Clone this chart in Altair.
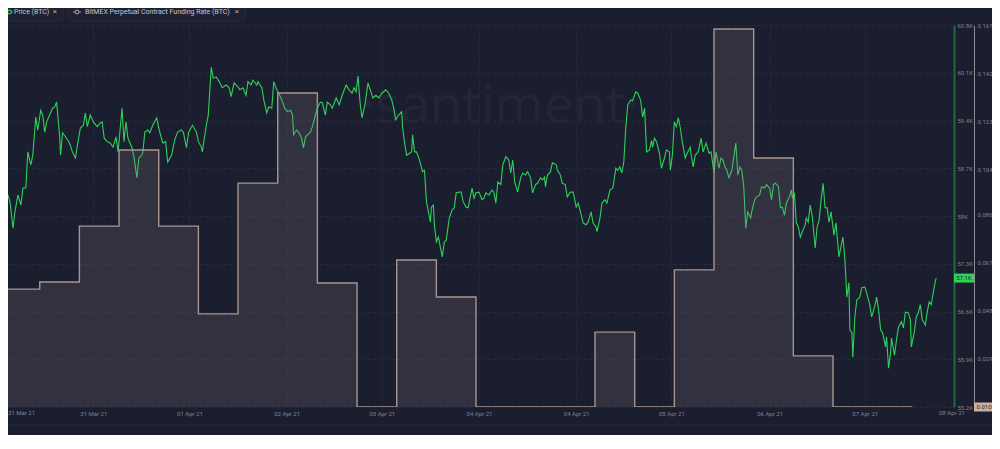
import altair as alt
import pandas as pd

# x unit: 12-minute steps from the chart start (funding settles every 8h = 40 steps)
price_t = [
    0, 1, 3, 7, 10, 13, 15, 18, 21, 23, 26, 28, 31, 33, 36, 38, 41, 43, 45, 47, 50, 53, 55, 57, 60, 61, 63, 67, 70, 73,
    76, 78, 81, 84, 86, 88, 91, 94, 98, 101, 103, 105, 108, 111, 114, 117, 119, 123, 125, 127, 129, 133, 135, 138, 140,
    143, 144, 146, 149, 151, 154, 158, 160, 164, 167, 169, 173, 176, 179, 183, 185, 188, 190, 194, 198, 200, 203, 204,
    206, 208, 210, 213, 215, 218, 221, 224, 228, 231, 233, 236, 240,
    242, 245, 248, 250, 253, 255, 259, 260, 264, 266, 269, 271, 274, 276, 279, 282, 285, 287, 290, 293, 295, 296, 299,
    301, 304, 306, 308, 310, 313, 315, 318, 320, 323, 325, 328, 330, 333, 335, 339, 342, 345, 349, 352, 355, 357, 359,
    361, 363, 365, 368, 371, 374, 376, 379, 382, 385, 389, 392, 395, 397, 399, 402, 405, 406, 408, 410, 413, 415, 416,
    418, 420, 423, 426, 428, 430, 432, 434, 435, 437, 438, 440, 442, 445, 446, 448, 450, 453, 456, 458, 460, 463, 465,
    467, 470, 472, 476, 478, 480, 483,
    486, 488, 490, 493, 496, 498, 500, 502, 505, 507, 510, 513, 515, 517, 519, 522, 525, 527, 530, 532, 535, 537, 540,
    542, 545, 547, 549, 550, 552, 555, 557, 561, 562, 565, 567, 570, 572, 575, 578, 581, 583, 586, 588, 591, 593, 596,
    598, 601, 602, 605, 607, 610, 612, 615, 618, 621, 623, 625, 627, 629, 631, 633, 636, 638, 641, 643, 646, 648, 650,
    652, 655, 657, 658, 660, 662, 665, 667, 670, 672, 675, 676, 678, 680, 682, 684, 686, 688, 691, 693, 696, 697, 699,
    701, 704, 707, 709, 712, 715, 717, 720, 722, 725,
    727, 729, 731, 733, 735, 738, 740, 742, 744, 746, 748, 750, 752, 754, 757, 758, 761, 763, 766, 768, 771, 773, 776,
    778, 780, 782, 785, 787, 789, 791, 793, 796, 798, 799, 801, 803, 805, 807, 809, 812, 813, 815, 817, 819, 822, 824,
    826, 828, 830, 832, 834, 836, 838, 841, 843, 846, 848, 850, 852, 854, 856, 857, 859, 860, 862, 864, 867, 869, 872,
    874, 877, 879, 882, 884, 886, 888, 890, 893, 894, 896, 898, 899, 902, 904, 906, 909, 911, 913, 916, 918, 919, 922,
    924, 926, 928, 930, 933, 935, 937, 939, 941, 943, 944,
]
price_usd = [
    58890, 57910, 58160, 58350, 58210, 57820, 58060, 58310, 58160, 58410, 58410, 58940, 58750, 58890, 59450, 59260,
    59550, 59480, 59230, 59380, 59480, 59580, 59600, 59670, 59190, 58890, 59220, 59140, 59070, 58940,
    58850, 59040, 59290, 59330, 59510, 59310, 59480, 59380, 59310, 59360, 59380, 59140, 59090, 59070, 59010, 59160,
    58940, 59580, 59090, 59380, 59140, 59000, 58870, 58560, 58850,
    58890, 58940, 59230, 59260, 59220, 59330, 59440, 59290, 59070, 59090, 58790, 58890, 59110, 59230, 59260, 59220,
    59000, 59220, 59330, 59230, 59090, 59010, 58940,
    59140, 59330, 59480, 60180, 60020, 60040, 59970, 59880, 59920, 59880, 59750, 59950, 59890,
    59850, 59880, 59770, 59970, 59920, 59990, 59920, 59970, 59880, 59700, 59510, 59600, 59580, 59970, 59850, 59770,
    59670, 59580, 59530, 59550, 59480, 59190, 59260,
    59230, 59140, 59000, 59160, 59190, 59230, 59310, 59480, 59580, 59670, 59660, 59480, 59670, 59630, 59580, 59730,
    59630, 59770, 59920, 59850, 59800, 59880, 59820,
    60050, 59670, 59440, 59630, 59950, 59820, 59730, 59770, 59730, 59800, 59850, 59800, 59700, 59580, 59410, 59480,
    59530, 59290, 59070, 58890, 58920, 58940, 59190,
    58940, 58940, 58820, 58650, 58670, 58210, 58060, 57910, 58130, 58160, 57870, 57620, 57690, 57470, 57400, 57620,
    57650, 57970, 58090, 58120, 58340, 58350, 58350,
    58210, 58130, 58120, 58410, 58260, 58340, 58350,
    58240, 58260, 58340, 58310, 58380, 58350, 58190, 58500, 58460, 58750, 58870, 58820, 58630, 58820, 58500, 58350,
    58560, 58630, 58600, 58650, 58560, 58340, 58460,
    58480, 58560, 58530, 58570, 58430, 58600, 58650, 58780, 58750, 58670, 58600, 58480, 58460, 58280, 58350, 58350,
    58130, 58190, 58020, 57900, 57870, 57910, 58060,
    57900, 57840, 57770, 57970, 58190, 58240, 58190, 58380, 58410, 58700, 58670, 58720, 58630, 58790, 59290, 59630,
    59700, 59690, 59820, 59800, 59700, 59450, 59580,
    58940, 58970, 59110, 59010, 59140, 59090, 58920, 58700, 58850, 58970, 58940, 58670, 58890, 59380, 59310, 59440,
    59290, 59090, 58850, 58920, 59010, 58890, 58720,
    58890, 58940, 59140, 58940, 59070, 58920, 58940, 58630, 58940, 58700,
    58850, 58820, 58720, 58670, 58560, 58670, 58870, 59070, 58600, 58720, 58670, 58430, 57820, 58060, 57970, 58060,
    58240, 58280, 58310, 58430, 58410, 58460, 58410,
    58240, 58460, 58480, 58430, 58120, 58130, 58010, 58190, 58280, 58380, 58260, 58340, 57900, 57840, 57690, 57770,
    57870, 57970, 57910, 58160, 58010, 57530, 57840,
    57940, 58240, 58480, 58120, 58120, 57910, 58060, 57720, 57900, 57400, 57550, 57690, 57360, 56810, 57020, 56330,
    56290, 55930, 56520, 56770, 56810, 56950, 56960,
    56870, 56700, 56520, 56670, 56810, 56620, 56330, 56290, 56080, 56230, 55770, 55990, 56210, 55960, 56180, 56370,
    56450, 56360, 56590, 56580, 56480, 56080, 56300,
    56520, 56580, 56700, 56480, 56400, 56590, 56740, 56700, 56870, 57030, 57090,
]

funding_t = [0, 40, 80, 120, 160, 200, 240, 280, 320, 360, 400, 440, 480, 520, 560, 600, 640, 680, 720, 760, 800,
             840, 880, 920]
funding_rate = [0.0566, 0.0594, 0.0815, 0.1116, 0.0815, 0.0468, 0.0985, 0.1341, 0.0590, 0.0100, 0.0681, 0.0535,
                0.0100, 0.0100, 0.0100, 0.0396, 0.0100, 0.0642, 0.1594, 0.1084, 0.0302, 0.0100, 0.0100, 0.0100]

price_ticks = [55200, 55900, 56600, 57300, 58000, 58700, 59400, 60100, 60800]
funding_ticks = [0.010, 0.029, 0.048, 0.067, 0.086, 0.104, 0.123, 0.142, 0.161]
date_tick_t = [94, 191, 289, 385, 483, 581, 677, 776, 872]
date_tick_labels = ["31 Mar 21", "01 Apr 21", "02 Apr 21", "03 Apr 21", "04 Apr 21", "04 Apr 21", "05 Apr 21",
                    "06 Apr 21", "07 Apr 21"]
first_date_label = "31 Mar 21"
last_date_label = "08 Apr 21"
legend_labels = ["Price (BTC)", "BitMEX Perpetual Contract Funding Rate (BTC)"]

W, H = 944, 382
RIGHT_PAD = 40
PRICE_AX_OFF = 2
FUND_AX_OFF = 22
BG = "#1b1e2f"
GREEN = "#2ed158"
FONT = "Roboto"
LABEL_COLOR = "#7d8296"

price_df = pd.DataFrame({"t": price_t, "price": price_usd})
fund_df = pd.DataFrame({"t": funding_t, "rate": funding_rate})

x_domain = [8, 960]
label_map = "{" + ",".join(f"'{t}':'{l}'" for t, l in zip(date_tick_t, date_tick_labels)) + "}"

x_enc = alt.X(
    "t:Q",
    scale=alt.Scale(domain=x_domain, nice=False, zero=False),
    axis=alt.Axis(
        values=date_tick_t, labelExpr=f"{label_map}[toString(datum.value)]", title=None,
        domain=False, ticks=False, tickSize=0, labelPadding=3, labelFont=FONT, labelFontSize=6,
        labelColor=LABEL_COLOR, grid=True, gridColor="#262a3e", gridDash=[3, 3], labelBound=False,
        labelFlush=False, labelOverlap=False,
    ),
)

price_scale = alt.Scale(domain=[55200, 60800], nice=False, zero=False)
fund_scale = alt.Scale(domain=[0.010, 0.161], nice=False, zero=False)

price_line = alt.Chart(price_df).mark_line(color=GREEN, strokeWidth=1.1, clip=True).encode(
    x=x_enc,
    y=alt.Y("price:Q", scale=price_scale, axis=alt.Axis(
        orient="right", offset=PRICE_AX_OFF, values=price_ticks,
        labelExpr="format(datum.value/1000, '.1~f') + 'K'",
        title=None, domainColor="#1f6a3a", domainWidth=2, ticks=False, tickSize=0, labelPadding=3,
        labelFont=FONT, labelFontSize=6, labelColor=LABEL_COLOR, grid=True, gridColor="#272b40",
        gridDash=[3, 3], labelBound=False, labelFlush=False, labelOverlap=False)),
)

last_price = pd.DataFrame({"price": [price_usd[-1]], "label": [f"{price_usd[-1]/1000:.1f}K"]})
price_tag = alt.Chart(last_price).mark_point(
    shape="M-1,-0.45H1V0.45H-1Z", size=400, filled=True, fill="#2fd35a", opacity=1, strokeWidth=0
).encode(x=alt.value(W + PRICE_AX_OFF + 10), y=alt.Y("price:Q", scale=price_scale))
price_tag_text = alt.Chart(last_price).mark_text(
    font=FONT, fontSize=6, color="#0e2a16", align="center", baseline="middle"
).encode(x=alt.value(W + PRICE_AX_OFF + 10), y=alt.Y("price:Q", scale=price_scale), text="label:N")

price_layer = alt.layer(price_line, price_tag, price_tag_text)

fund_area = alt.Chart(fund_df).mark_area(
    interpolate="step-after", clip=True, fill="#8a7f88", fillOpacity=0.2,
    line={"color": "#a8958f", "strokeWidth": 1.4},
).encode(
    x=alt.X("t:Q", scale=alt.Scale(domain=x_domain, nice=False, zero=False)),
    y=alt.Y("rate:Q", scale=fund_scale, axis=alt.Axis(
        orient="right", offset=FUND_AX_OFF, values=funding_ticks, format=".3f", title=None,
        domainColor="#8c8a94", domainWidth=1, ticks=False, tickSize=0, labelPadding=3,
        labelFont=FONT, labelFontSize=6, labelColor=LABEL_COLOR, grid=False,
        labelBound=False, labelFlush=False, labelOverlap=False)),
    y2=alt.value(H),
)

min_rate = pd.DataFrame({"rate": [funding_ticks[0]], "label": [f"{funding_ticks[0]:.3f}"]})
fund_tag = alt.Chart(min_rate).mark_point(
    shape="M-1,-0.45H1V0.45H-1Z", size=400, filled=True, fill="#c9afa5", opacity=1, strokeWidth=0
).encode(x=alt.value(W + FUND_AX_OFF + 10), y=alt.Y("rate:Q", scale=fund_scale))
fund_tag_text = alt.Chart(min_rate).mark_text(
    font=FONT, fontSize=6, color="#2a1f1c", align="center", baseline="middle"
).encode(x=alt.value(W + FUND_AX_OFF + 10), y=alt.Y("rate:Q", scale=fund_scale), text="label:N")

fund_layer = alt.layer(fund_area, fund_tag, fund_tag_text)

# decorations
deco_df = pd.DataFrame({"k": [0]})
watermark = alt.Chart(deco_df).mark_text(
    text="·santiment·", font="Open Sans", fontSize=53, color="#232638", align="center", baseline="alphabetic"
).encode(x=alt.value(492), y=alt.value(98))

first_lab = alt.Chart(deco_df).mark_text(
    text=first_date_label, font=FONT, fontSize=6, color=LABEL_COLOR, align="left", baseline="top"
).encode(x=alt.datum(x_domain[0]), y=alt.value(H + 3))
last_lab = alt.Chart(deco_df).mark_text(
    text=last_date_label, font=FONT, fontSize=6, color=LABEL_COLOR, align="center", baseline="top"
).encode(x=alt.datum(x_domain[1]), y=alt.value(H + 3))

nav_rule = alt.Chart(deco_df).mark_rule(color="#262a3d", strokeWidth=1).encode(
    x=alt.value(-8), x2=alt.value(W + RIGHT_PAD), y=alt.value(H + 18))
nav_rule2 = alt.Chart(deco_df).mark_rule(color="#232639", strokeWidth=1).encode(
    x=alt.value(-8), x2=alt.value(W + RIGHT_PAD), y=alt.value(H + 28))

tab1 = alt.Chart(deco_df).mark_rect(fill="#1e2133", stroke="#272a3c", strokeWidth=1, cornerRadius=2).encode(
    x=alt.value(0), x2=alt.value(55), y=alt.value(-21), y2=alt.value(-4))
tab2 = alt.Chart(deco_df).mark_rect(fill="#1e2133", stroke="#272a3c", strokeWidth=1, cornerRadius=2).encode(
    x=alt.value(60), x2=alt.value(237), y=alt.value(-21), y2=alt.value(-4))

icon1_line = alt.Chart(deco_df).mark_rule(color=GREEN, strokeWidth=1).encode(
    x=alt.value(-2), x2=alt.value(5), y=alt.value(-13))
icon1 = alt.Chart(deco_df).mark_point(shape="circle", size=14, color=GREEN, fill=BG, filled=True,
                                      stroke=GREEN, strokeWidth=1.1, opacity=1).encode(
    x=alt.value(1.5), y=alt.value(-13))
icon2_line = alt.Chart(deco_df).mark_rule(color="#a8958f", strokeWidth=1).encode(
    x=alt.value(65), x2=alt.value(73), y=alt.value(-13))
icon2 = alt.Chart(deco_df).mark_point(shape="circle", size=14, fill=BG, filled=True,
                                      stroke="#a8958f", strokeWidth=1.1, opacity=1).encode(
    x=alt.value(69), y=alt.value(-13))

leg_text1 = alt.Chart(deco_df).mark_text(
    text=legend_labels[0], font=FONT, fontSize=7, color="#c4c7d3", align="left", baseline="middle"
).encode(x=alt.value(6), y=alt.value(-13))
leg_x1 = alt.Chart(deco_df).mark_text(
    text="×", font=FONT, fontSize=8, color="#a7abb8", align="center", baseline="middle"
).encode(x=alt.value(47), y=alt.value(-13))
leg_text2 = alt.Chart(deco_df).mark_text(
    text=legend_labels[1], font=FONT, fontSize=7, color="#c4c7d3", align="left", baseline="middle"
).encode(x=alt.value(77), y=alt.value(-13))
leg_x2 = alt.Chart(deco_df).mark_text(
    text="×", font=FONT, fontSize=8, color="#a7abb8", align="center", baseline="middle"
).encode(x=alt.value(229), y=alt.value(-13))

chart = alt.layer(
    watermark, price_layer, fund_layer, first_lab, last_lab, nav_rule, nav_rule2,
    tab1, tab2, icon1_line, icon1, icon2_line, icon2, leg_text1, leg_x1, leg_text2, leg_x2,
).resolve_scale(y="independent").properties(
    width=W, height=H,
    padding={"left": 0, "top": 17, "right": RIGHT_PAD, "bottom": 28},
    autosize=alt.AutoSizeParams(type="none"),
    background=BG,
).configure_view(stroke=None)

chart.save("out.html", embed_options={"renderer": "svg", "actions": False})
